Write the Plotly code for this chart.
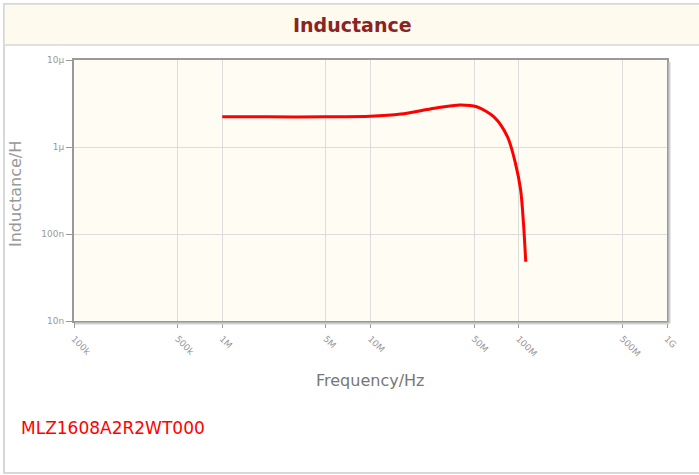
import plotly.graph_objects as go

# Data
freq_hz = [1e6, 2e6, 5e6, 10e6, 16e6, 27e6, 40e6, 52e6, 68e6, 84e6, 95e6, 103e6, 107.6e6, 111.5e6]
inductance_h = [2.22e-6, 2.22e-6, 2.22e-6, 2.25e-6, 2.39e-6, 2.79e-6, 3.04e-6, 2.90e-6,
                2.22e-6, 1.31e-6, 0.65e-6, 0.32e-6, 0.133e-6, 0.048e-6]

x_tickvals = [1e5, 5e5, 1e6, 5e6, 1e7, 5e7, 1e8, 5e8, 1e9]
x_ticktext = ["100k", "500k", "1M", "5M", "10M", "50M", "100M", "500M", "1G"]
y_tickvals = [1e-8, 1e-7, 1e-6, 1e-5]
y_ticktext = ["10n", "100n", "1µ", "10µ"]

W, H = 699, 475
L_M, R_M, T_M, B_M = 74, 32, 60, 154
PW, PH = W - L_M - R_M, H - T_M - B_M


def px(x):
    return (x - L_M) / PW


def py(y):
    return (H - B_M - y) / PH


FONT = "DejaVu Sans"

fig = go.Figure()
fig.add_trace(go.Scatter(
    x=freq_hz, y=inductance_h, mode="lines",
    line=dict(color="#ff0000", width=3, shape="spline", smoothing=0.8),
    hoverinfo="skip", showlegend=False,
))

fig.update_layout(
    width=W, height=H,
    margin=dict(l=L_M, r=R_M, t=T_M, b=B_M),
    paper_bgcolor="white",
    plot_bgcolor="#fffcf3",
    showlegend=False,
    xaxis=dict(
        type="log", range=[5, 9],
        tickvals=x_tickvals, ticktext=x_ticktext,
        tickangle=45,
        tickfont=dict(family=FONT, size=9, color="#999999"),
        ticks="outside", ticklen=5, tickcolor="#999999", tickwidth=1,
        ticklabelstandoff=2,
        showgrid=True, gridcolor="#dcdcdc", gridwidth=1,
        showline=True, linecolor="#999999", linewidth=2, mirror=True,
        zeroline=False, fixedrange=True,
    ),
    yaxis=dict(
        type="log", range=[-8, -5],
        tickvals=y_tickvals, ticktext=y_ticktext,
        tickfont=dict(family=FONT, size=9, color="#999999"),
        ticks="outside", ticklen=6, tickcolor="#999999", tickwidth=1,
        showgrid=True, gridcolor="#dcdcdc", gridwidth=1,
        showline=True, linecolor="#999999", linewidth=2, mirror=True,
        zeroline=False, fixedrange=True,
    ),
    shapes=[
        # outer border
        dict(type="rect", xref="paper", yref="paper",
             x0=px(4), x1=px(712), y0=py(473), y1=py(4),
             line=dict(color="#cccccc", width=1.5), fillcolor="rgba(0,0,0,0)", layer="below"),
        # title band
        dict(type="rect", xref="paper", yref="paper",
             x0=px(4), x1=px(712), y0=py(45), y1=py(4),
             line=dict(color="#d8d8d8", width=1.5), fillcolor="#fffaee", layer="below"),
        # frame shadow
        dict(type="line", xref="paper", yref="paper",
             x0=px(75), x1=px(669), y0=py(323.5), y1=py(323.5),
             line=dict(color="#d0d0d0", width=2)),
        dict(type="line", xref="paper", yref="paper",
             x0=px(669.5), x1=px(669.5), y0=py(62), y1=py(323.5),
             line=dict(color="#d0d0d0", width=2)),
    ],
    annotations=[
        dict(text="<b>Inductance</b>", xref="paper", yref="paper",
             x=px(352), y=py(25), showarrow=False,
             font=dict(family=FONT, size=19, color="#8b2323"),
             xanchor="center", yanchor="middle"),
        dict(text="Inductance/H", xref="paper", yref="paper",
             x=px(15), y=py(194), showarrow=False, textangle=-90,
             font=dict(family=FONT, size=16, color="#999999"),
             xanchor="center", yanchor="middle"),
        dict(text="Frequency/Hz", xref="paper", yref="paper",
             x=px(370), y=py(380), showarrow=False,
             font=dict(family=FONT, size=16, color="#777777"),
             xanchor="center", yanchor="middle"),
        dict(text="MLZ1608A2R2WT000", xref="paper", yref="paper",
             x=px(19), y=py(428), showarrow=False,
             font=dict(family=FONT, size=17, color="#ff0000"),
             xanchor="left", yanchor="middle"),
    ],
)

fig.write_html("out.html", config={"displayModeBar": False},
               post_script="document.body.style.margin='0';document.body.style.overflow='hidden';")
